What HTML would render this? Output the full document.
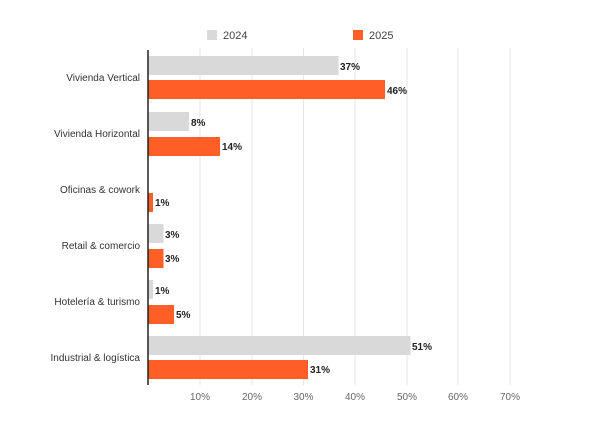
<!DOCTYPE html>
<html><head><meta charset="utf-8"><style>body{margin:0;background:#fff}</style></head>
<body>
<svg width="602" height="443" xmlns="http://www.w3.org/2000/svg" font-family="Liberation Sans, sans-serif">
<rect width="602" height="443" fill="#fff"/>
<g stroke="#e6e6e6" stroke-width="1">
<line x1="200" y1="48" x2="200" y2="385"/><line x1="252" y1="48" x2="252" y2="385"/>
<line x1="303.5" y1="48" x2="303.5" y2="385"/><line x1="355" y1="48" x2="355" y2="385"/>
<line x1="407" y1="48" x2="407" y2="385"/><line x1="458" y1="48" x2="458" y2="385"/>
<line x1="510" y1="48" x2="510" y2="385"/>
</g>
<rect x="207" y="30" width="10" height="10" fill="#d9d9d9"/>
<text x="223" y="39" font-size="11" fill="#444">2024</text>
<rect x="353" y="30" width="10" height="10" fill="#ff5f26"/>
<text x="369" y="39" font-size="11" fill="#444">2025</text>
<g font-size="10" fill="#333" text-anchor="end">
<text x="140" y="81">Vivienda Vertical</text>
<text x="140" y="137">Vivienda Horizontal</text>
<text x="140" y="193">Oficinas &amp; cowork</text>
<text x="140" y="249">Retail &amp; comercio</text>
<text x="140" y="305">Hotelería &amp; turismo</text>
<text x="140" y="361">Industrial &amp; logística</text>
</g>
<g fill="#d9d9d9">
<rect x="148" y="56" width="190.5" height="19"/>
<rect x="148" y="112" width="41" height="19"/>
<rect x="148" y="224" width="15.5" height="19"/>
<rect x="148" y="280" width="5" height="19"/>
<rect x="148" y="336" width="262.5" height="19"/>
</g>
<g fill="#ff5f26">
<rect x="148" y="80" width="237" height="19"/>
<rect x="148" y="137" width="72" height="19"/>
<rect x="148" y="193" width="5" height="19"/>
<rect x="148" y="249" width="15.5" height="19"/>
<rect x="148" y="305" width="26" height="19"/>
<rect x="148" y="360" width="160" height="19"/>
</g>
<g font-size="10" font-weight="bold" fill="#222">
<text x="340" y="70">37%</text><text x="387" y="94">46%</text>
<text x="191" y="126">8%</text><text x="222" y="150">14%</text>
<text x="155" y="206">1%</text>
<text x="165" y="238">3%</text><text x="165" y="262">3%</text>
<text x="155" y="294">1%</text><text x="176" y="318">5%</text>
<text x="412" y="350">51%</text><text x="310" y="373">31%</text>
</g>
<line x1="148" y1="50" x2="148" y2="385" stroke="#222" stroke-width="1.5"/>
<g font-size="10" fill="#666" text-anchor="middle">
<text x="200" y="400">10%</text><text x="252" y="400">20%</text><text x="303.5" y="400">30%</text>
<text x="355" y="400">40%</text><text x="407" y="400">50%</text><text x="458" y="400">60%</text><text x="510" y="400">70%</text>
</g>
</svg>
</body></html>
